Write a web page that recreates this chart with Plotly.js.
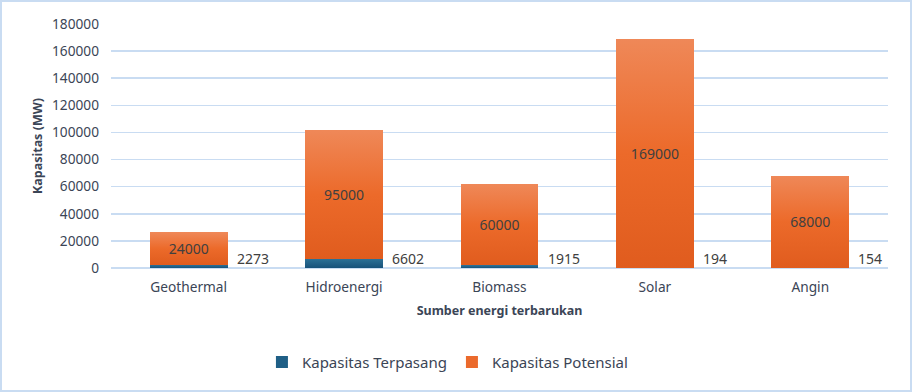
<!DOCTYPE html>
<html>
<head>
<meta charset="utf-8">
<script src="https://cdn.plot.ly/plotly-3.0.1.min.js"></script>
<style>
  html, body { margin: 0; padding: 0; background: #fff; }
  #wrap { position: relative; width: 912px; height: 392px; }
  #chart { width: 912px; height: 392px; }
  #frame { position: absolute; left: 0; top: 0; width: 912px; height: 392px; box-sizing: border-box;
           border: 2px solid #C9DCF2; pointer-events: none; }
</style>
</head>
<body>
<div id="wrap"><div id="chart"></div><div id="frame"></div></div>
<script>
const categories = ["Geothermal", "Hidroenergi", "Biomass", "Solar", "Angin"];
const terpasang = [2273, 6602, 1915, 194, 154];
const potensial = [24000, 95000, 60000, 169000, 68000];
const seriesNames = ["Kapasitas Terpasang", "Kapasitas Potensial"];
const yTicks = [0, 20000, 40000, 60000, 80000, 100000, 120000, 140000, 160000, 180000];

const FONT = "Noto Sans, Open Sans, sans-serif";
const AXIS_COLOR = "#3B4556";
const LABEL_COLOR = "#404040";

const traces = [
  {
    type: "bar", name: seriesNames[0], x: categories, y: terpasang,
    marker: { color: "#1F5F86" }, hoverinfo: "x+y"
  },
  {
    type: "bar", name: seriesNames[1], x: categories, y: potensial,
    marker: { color: "#EB6A2C" },
    text: potensial.map(String), textposition: "inside", insidetextanchor: "middle",
    constraintext: "none", textangle: 0,
    textfont: { family: FONT, size: 14, color: LABEL_COLOR }
  }
];

const annotations = categories.map((c, i) => ({
  x: c, y: 0, xref: "x", yref: "y", text: String(terpasang[i]),
  showarrow: false, xanchor: "left", yanchor: "bottom", xshift: 46, yshift: -2,
  font: { family: FONT, size: 14, color: LABEL_COLOR }
}));

const layout = {
  width: 912, height: 392,
  margin: { l: 111, r: 24, t: 24, b: 124 },
  paper_bgcolor: "#fff", plot_bgcolor: "#fff",
  barmode: "stack", bargap: 0.5,
  font: { family: FONT, color: AXIS_COLOR, size: 13.7 },
  xaxis: {
    showgrid: false, zeroline: false, showline: false, ticks: "",
    ticklabelstandoff: 9,
    tickfont: { family: FONT, size: 13.7, color: AXIS_COLOR },
    title: { text: "Sumber energi terbarukan", standoff: 11,
             font: { family: FONT, size: 12.5, color: AXIS_COLOR, weight: "bold" } }
  },
  yaxis: {
    range: [0, 180000], tickvals: yTicks, ticktext: yTicks.map(String),
    showgrid: true, gridcolor: "#C9DCF2", gridwidth: 1.6,
    zeroline: true, zerolinecolor: "#C9DCF2", zerolinewidth: 1.6,
    showline: false, ticks: "", ticklabelstandoff: 11,
    tickfont: { family: FONT, size: 13.7, color: AXIS_COLOR },
    title: { text: "Kapasitas (MW)", standoff: 6,
             font: { family: FONT, size: 12.5, color: AXIS_COLOR, weight: "bold" } }
  },
  showlegend: true,
  legend: {
    orientation: "h", x: 0.433, xanchor: "center", y: -0.386, yanchor: "middle",
    font: { family: FONT, size: 15, color: AXIS_COLOR },
    itemwidth: 30, traceorder: "normal"
  },
  annotations: annotations
};

Plotly.newPlot("chart", traces, layout, { displayModeBar: false, staticPlot: true }).then(gd => {
  const svg = gd.querySelector("svg.main-svg");
  const ns = "http://www.w3.org/2000/svg";
  const defs = document.createElementNS(ns, "defs");
  function grad(id, stops) {
    const g = document.createElementNS(ns, "linearGradient");
    g.setAttribute("id", id);
    g.setAttribute("x1", "0"); g.setAttribute("y1", "0");
    g.setAttribute("x2", "0"); g.setAttribute("y2", "1");
    stops.forEach(([o, c]) => {
      const s = document.createElementNS(ns, "stop");
      s.setAttribute("offset", o); s.setAttribute("stop-color", c);
      g.appendChild(s);
    });
    defs.appendChild(g);
  }
  grad("gOrange", [["0", "#EF8858"], ["0.5", "#EC6A2A"], ["1", "#E05C1E"]]);
  grad("gBlue", [["0", "#2C7096"], ["1", "#17527A"]]);
  svg.insertBefore(defs, svg.firstChild);
  const tr = gd.querySelectorAll(".barlayer .trace");
  tr.forEach((t, i) => {
    t.querySelectorAll(".point path").forEach(p => {
      p.style.fill = i === 0 ? "url(#gBlue)" : "url(#gOrange)";
    });
  });
});
</script>
</body>
</html>
